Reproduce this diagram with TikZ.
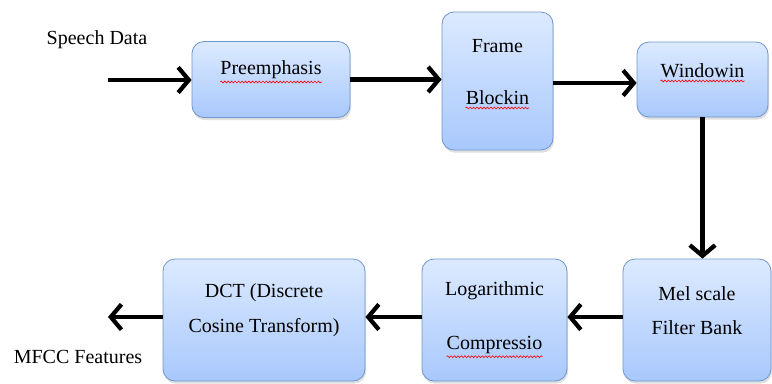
\documentclass[tikz,border=0pt]{standalone}
\usepackage{fontspec}
\setmainfont{Liberation Serif}
\usetikzlibrary{arrows.meta, shadows, decorations.pathmorphing}

\tikzset{
  blockbox/.style={draw={rgb,255:red,110;green,150;blue,205}, line width=0.6pt,
    rounded corners=9pt, top color={rgb,255:red,220;green,234;blue,255},
    bottom color={rgb,255:red,168;green,200;blue,252},
    drop shadow={opacity=0.25, shadow xshift=0.8pt, shadow yshift=-2pt}},
  blocktext/.style={inner sep=0pt, font=\rmfamily\fontsize{15}{18}\selectfont},
  flow/.style={line width=3.4pt, -{Straight Barb[length=8pt, width=19pt, line width=3.2pt]}},
  spellmark/.style={draw=red, line width=0.45pt, decorate,
    decoration={snake, amplitude=0.7pt, segment length=2.6pt}}
}

\begin{document}
\begin{tikzpicture}[x=0.75pt,y=0.75pt,yscale=-1,xscale=1]
    \useasboundingbox (0,0) rectangle (772,383);

    % Boxes
    \node[blockbox, minimum width=158*0.75pt, minimum height=76*0.75pt] (pre) at (271,79.5) {};
    \node[blockbox, minimum width=111*0.75pt, minimum height=138*0.75pt] (frame) at (497.5,81) {};
    \node[blockbox, minimum width=131*0.75pt, minimum height=75*0.75pt] (win) at (702.5,79.5) {};
    \node[blockbox, minimum width=148*0.75pt, minimum height=122*0.75pt] (mel) at (697,320) {};
    \node[blockbox, minimum width=145*0.75pt, minimum height=122*0.75pt] (logc) at (494.5,320) {};
    \node[blockbox, minimum width=202*0.75pt, minimum height=122*0.75pt] (dct) at (264,320) {};

    % Text in boxes
    \node[blocktext] (preT) at (271,70) {Preemphasis};
    \node[blocktext] (frameT1) at (497.5,46) {Frame};
    \node[blocktext] (frameT2) at (497.5,98) {Blockin};
    \node[blocktext] (winT) at (702.5,71) {Windowin};
    \node[blocktext] (melT1) at (697,294) {Mel scale};
    \node[blocktext] (melT2) at (697,328) {Filter Bank};
    \node[blocktext] (logT1) at (494.5,291) {Logarithmic};
    \node[blocktext] (logT2) at (494.5,345) {Compressio};
    \node[blocktext] (dctT1) at (264,293) {DCT (Discrete};
    \node[blocktext] (dctT2) at (264,328) {Cosine Transform)};

    % Spell check marks
    \foreach \w in {preT, frameT2, winT, logT2}
      \path[spellmark] ([yshift=2pt]\w.south west) -- ([yshift=2pt]\w.south east);

    % Outer labels
    \node[blocktext] (speech) at (97,40) {Speech Data};
    \node[blocktext] (mfcc) at (78,357) {MFCC Features};
    \coordinate (in) at (108,80);
    \coordinate (out) at (108,317);

    % Arrows
    \draw[flow] (in) -- (in -| pre.west);
    \draw[flow] (pre.east) -- (pre.east -| frame.west);
    \draw[flow] ([yshift=1.5pt]frame.east) -- ([yshift=1.5pt]frame.east -| win.west);
    \draw[flow] (win.south) -- (win.south |- mel.north);
    \draw[flow] ([yshift=-2.25pt]mel.west) -- ([yshift=-2.25pt]mel.west -| logc.east);
    \draw[flow] ([yshift=-2.25pt]logc.west) -- ([yshift=-2.25pt]logc.west -| dct.east);
    \draw[flow] ([yshift=-2.25pt]dct.west) -- (out);

\end{tikzpicture}
\end{document}
